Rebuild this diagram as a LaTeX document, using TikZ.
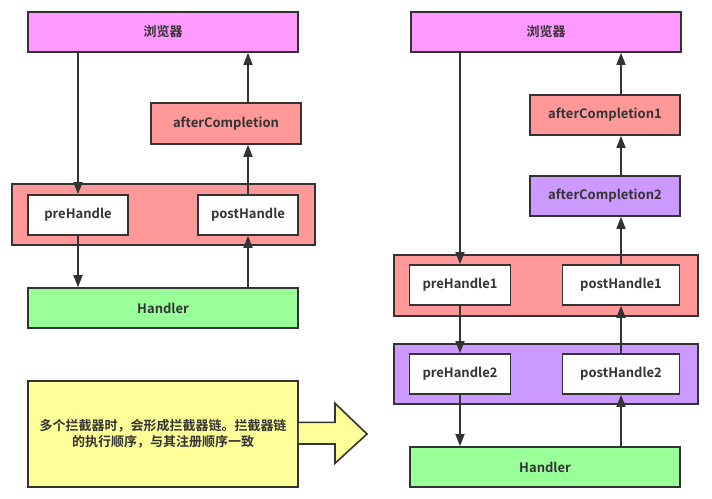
\documentclass[tikz,border=0pt]{standalone}
\usepackage{fontspec}
\setmainfont{Noto Sans CJK SC}[BoldFont={Noto Sans CJK SC Bold}]
\usepackage{tikz}
\usetikzlibrary{arrows.meta}
\definecolor{lineC}{HTML}{333333}
\definecolor{browserC}{HTML}{FF99FF}
\definecolor{pinkC}{HTML}{FF9999}
\definecolor{greenC}{HTML}{99FF99}
\definecolor{purpleC}{HTML}{CC99FF}
\definecolor{yellowC}{HTML}{FFFF99}
\tikzset{box/.style={draw=lineC, line width=1.6pt, text=lineC, font=\bfseries\fontsize{13}{15}\selectfont,
		inner sep=0pt, minimum height=40pt},
	wide/.style={box, minimum width=270pt},
	frame/.style={draw=lineC, line width=1.6pt, minimum width=304pt, minimum height=61pt},
	flow/.style={draw=lineC, line width=1.6pt, -{Triangle[length=12pt,width=9pt]}}}

\begin{document}
\begin{tikzpicture}[x=1pt,y=-1pt]
		\useasboundingbox (0,0) rectangle (712,498);
		% left: one interceptor
		\node[frame, fill=pinkC, minimum width=303pt] (lframe) at (163.5,214.5){};
		\node[wide, fill=browserC] (lbrw) at (163,32){浏览器};
		\node[box, fill=pinkC, minimum width=150pt, minimum height=41pt] (lac) at (226,123.5){afterCompletion};
		\node[box, fill=white, minimum width=100pt] (lpre) at (78,215){preHandle};
		\node[box, fill=white, minimum width=100pt] (lpost) at (248,215){postHandle};
		\node[wide, fill=greenC] (lhdl) at (163,308){Handler};
		\draw[flow] (lbrw.south -| lpre) to (lpre.north);
		\draw[flow] (lpre.south) to (lhdl.north -| lpre);
		\draw[flow] (lhdl.north -| lpost) to (lpost.south);
		\draw[flow] (lpost.north) to (lac.south -| lpost);
		\draw[flow] (lac.north -| lpost) to (lbrw.south -| lpost);
		% right: interceptor chain
		\node[frame, fill=pinkC] (rframe1) at (546,285.5){};
		\node[frame, fill=purpleC, minimum height=60pt] (rframe2) at (546,374){};
		\node[wide, fill=browserC] (rbrw) at (546,32){浏览器};
		\node[box, fill=pinkC, minimum width=150pt] (rac1) at (605,115){afterCompletion1};
		\node[box, fill=purpleC, minimum width=150pt] (rac2) at (605,196){afterCompletion2};
		\node[box, fill=white, minimum width=101pt] (rpre1) at (460,285){preHandle1};
		\node[box, fill=white, minimum width=117pt] (rpost1) at (621,285){postHandle1};
		\node[box, fill=white, minimum width=101pt] (rpre2) at (460,374){preHandle2};
		\node[box, fill=white, minimum width=117pt] (rpost2) at (621,374){postHandle2};
		\node[wide, fill=greenC] (rhdl) at (545,467){Handler};
		\draw[flow] (rbrw.south -| rpre1) to (rpre1.north);
		\draw[flow] (rpre1.south) to (rpre2.north);
		\draw[flow] (rpre2.south) to (rhdl.north -| rpre2);
		\draw[flow] (rhdl.north -| rpost2) to (rpost2.south);
		\draw[flow] (rpost2.north) to (rpost1.south);
		\draw[flow] (rpost1.north) to (rac2.south -| rpost1);
		\draw[flow] (rac2.north -| rpost1) to (rac1.south -| rpost1);
		\draw[flow] (rac1.north -| rpost1) to (rbrw.south -| rpost1);
		% note
		\node[wide, fill=yellowC, minimum height=106pt, align=center, font=\bfseries\fontsize{13}{15.6}\selectfont] (note) at (163,433.7)
			{多个拦截器时，会形成拦截器链。拦截器链\\的执行顺序，与其注册顺序一致};
		\draw[draw=lineC, line width=1.6pt, fill=yellowC] (note.east |- 0,422.3) -- (335,422.3) -- (335,403.3) -- (367,434)
			-- (335,463.3) -- (335,444) -- (note.east |- 0,444);
		\end{tikzpicture}
\end{document}
